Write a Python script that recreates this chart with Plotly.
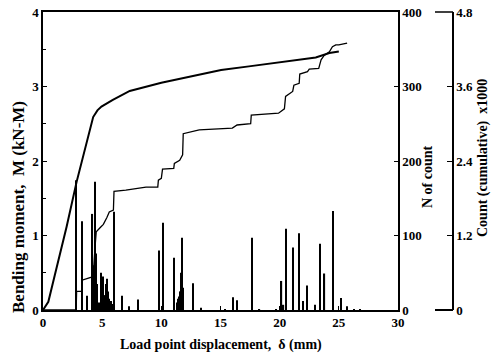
import plotly.graph_objects as go

# Bending moment curve (left axis, kN-M)
moment_x = [0, 0.2, 0.45, 1.0, 2.0, 2.84, 3.5, 4.24, 4.6, 4.94, 5.9, 7.33, 10.0, 14.07, 15.05, 17.4, 20.2, 23.05, 24.2, 25.0]
moment_y = [0, 0.05, 0.11, 0.47, 1.12, 1.72, 2.15, 2.59, 2.68, 2.73, 2.82, 2.94, 3.05, 3.19, 3.22, 3.27, 3.33, 3.39, 3.45, 3.47]

# Cumulative count (x1000, far right axis)
cum_x = [0, 2.8, 2.84, 3.26, 3.3, 3.6, 4.1, 4.2, 4.3, 4.4, 4.5, 4.8, 5.1, 5.4, 5.6, 5.95, 6.0, 7.0, 8.0, 8.7, 9.7,
         9.75, 10.0, 10.1, 11.05, 11.1, 11.55, 11.8, 11.85, 12.6, 13.2, 16.0, 16.4, 17.55, 17.6, 19.9, 20.25, 20.4,
         20.5, 21.1, 21.2, 21.65, 21.7, 22.35, 22.5, 23.3, 23.4, 23.5, 23.76, 24.2, 24.46, 24.74, 25.0, 25.7]
cum_y = [0, 0, 0.30, 0.30, 0.48, 0.50, 0.53, 0.55, 0.72, 1.02, 1.26, 1.32, 1.38, 1.49, 1.58, 1.61, 1.91, 1.93, 1.96, 1.98, 1.98,
         2.09, 2.12, 2.27, 2.28, 2.36, 2.41, 2.50, 2.84, 2.88, 2.90, 2.93, 2.98, 3.00, 3.14, 3.17, 3.22, 3.24,
         3.44, 3.52, 3.62, 3.65, 3.80, 3.84, 3.88, 3.89, 3.96, 4.03, 4.10, 4.16, 4.24, 4.27, 4.27, 4.30]

# N of count spikes (right axis)
spike_x = [2.80, 3.30, 3.70, 4.18, 4.25, 4.30, 4.35, 4.40, 4.45, 4.50, 4.55, 4.60, 4.70, 4.90, 5.00, 5.08, 5.15, 5.20,
           5.28, 5.35, 5.42, 5.50, 5.58, 5.65, 5.72, 5.80, 5.98, 6.71, 7.27, 8.03, 9.77, 10.14, 11.09, 11.35, 11.42,
           11.48, 11.55, 11.62, 11.70, 11.77, 11.82, 12.68, 13.35, 15.40, 16.03, 16.37, 17.63, 18.30, 19.70, 20.16,
           20.33, 20.55, 21.15, 21.65, 21.95, 22.33, 22.97, 23.42, 23.79, 24.54, 25.16, 25.72, 26.3, 26.8]
spike_n = [174, 119, 19, 129, 20, 45, 60, 172, 76, 60, 35, 20, 10, 50, 15, 45, 12, 20,
           18, 35, 42, 25, 15, 10, 12, 8, 132, 19, 5, 14, 80, 117, 70, 10, 15,
           18, 22, 25, 50, 97, 30, 36, 3, 1, 17, 13, 97, 1, 1, 39,
           7, 109, 84, 103, 12, 33, 7, 89, 49, 133, 16, 5, 1, 1]

x_ticks = [0, 5, 10, 15, 20, 25, 30]
m_ticks = [0, 1, 2, 3, 4]
n_ticks = [0, 100, 200, 300, 400]
c_ticks = [0, 1.2, 2.4, 3.6, 4.8]
c_labels = ["0", "1.2", "2.4", "3.6", "4.8"]

FONT = "Liberation Serif"
tickfont = dict(family=FONT, size=13, color="black", weight="bold")
titlefont = dict(family=FONT, size=14, color="black", weight="bold")

fig = go.Figure()
fig.add_trace(go.Bar(x=spike_x, y=spike_n, width=0.1, marker=dict(color="black", line=dict(width=0)),
                     yaxis="y2", showlegend=False))
fig.add_trace(go.Scatter(x=cum_x, y=cum_y, mode="lines", line=dict(color="black", width=1.3),
                         yaxis="y3", showlegend=False))
fig.add_trace(go.Scatter(x=moment_x, y=moment_y, mode="lines", line=dict(color="black", width=2),
                         yaxis="y", showlegend=False))

xdom_end = 355 / 417
fig.update_layout(
    width=500, height=361,
    margin=dict(l=43, r=40, t=12, b=51, autoexpand=False),
    paper_bgcolor="white", plot_bgcolor="white",
    xaxis=dict(domain=[0, xdom_end], range=[0, 30], tickvals=x_ticks, ticks="inside", ticklen=4,
               tickcolor="black", showline=True, linecolor="black", linewidth=1.5, mirror=True,
               showgrid=False, zeroline=False, tickfont=tickfont, automargin=False),
    yaxis=dict(range=[0, 4], tickvals=m_ticks, ticks="inside", ticklen=4, tickcolor="black",
               showline=True, linecolor="black", linewidth=1.5, showgrid=False, zeroline=False,
               tickfont=tickfont, automargin=False,
               minor=dict(dtick=0.5, ticks="inside", ticklen=3, tickcolor="black")),
    yaxis2=dict(range=[0, 400], tickvals=n_ticks, overlaying="y", side="right", anchor="x",
                ticks="inside", ticklen=4, tickcolor="black", showline=True, linecolor="black",
                linewidth=1.5, showgrid=False, zeroline=False, tickfont=tickfont, automargin=False),
    yaxis3=dict(range=[0, 4.8], tickvals=c_ticks, ticktext=c_labels,
                overlaying="y", side="right", anchor="free", position=410 / 417,
                ticks="inside", ticklen=5, tickcolor="black", showline=True, linecolor="black",
                linewidth=1.5, showgrid=False, zeroline=False, tickfont=tickfont, automargin=False),
    shapes=[
        dict(type="line", xref="paper", yref="paper", x0=392 / 417, x1=410 / 417, y0=0, y1=0,
             line=dict(color="black", width=2)),
        dict(type="line", xref="paper", yref="paper", x0=392 / 417, x1=410 / 417, y0=1, y1=1,
             line=dict(color="black", width=1.5)),
    ],
    annotations=[
        dict(text="Bending moment,  M (kN-M)", xref="paper", yref="paper", x=-25 / 417, y=103 / 298,
             textangle=-90, showarrow=False, font=dict(family=FONT, size=17, color="black", weight="bold"),
             xanchor="center", yanchor="middle"),
        dict(text="Load point displacement,  δ (mm)", xref="paper", yref="paper", x=178 / 417,
             y=-35 / 298, showarrow=False, font=titlefont, xanchor="center", yanchor="middle"),
        dict(text="N of count", xref="paper", yref="paper", x=385 / 417, y=133 / 298,
             textangle=-90, showarrow=False, font=titlefont, xanchor="center", yanchor="middle"),
        dict(text="Count (cumulative)  x1000", xref="paper", yref="paper", x=440 / 417, y=152 / 298,
             textangle=-90, showarrow=False, font=titlefont, xanchor="center", yanchor="middle"),
    ],
)
fig.write_html("out.html", config={"displayModeBar": False},
               post_script="document.body.style.margin='0';")
